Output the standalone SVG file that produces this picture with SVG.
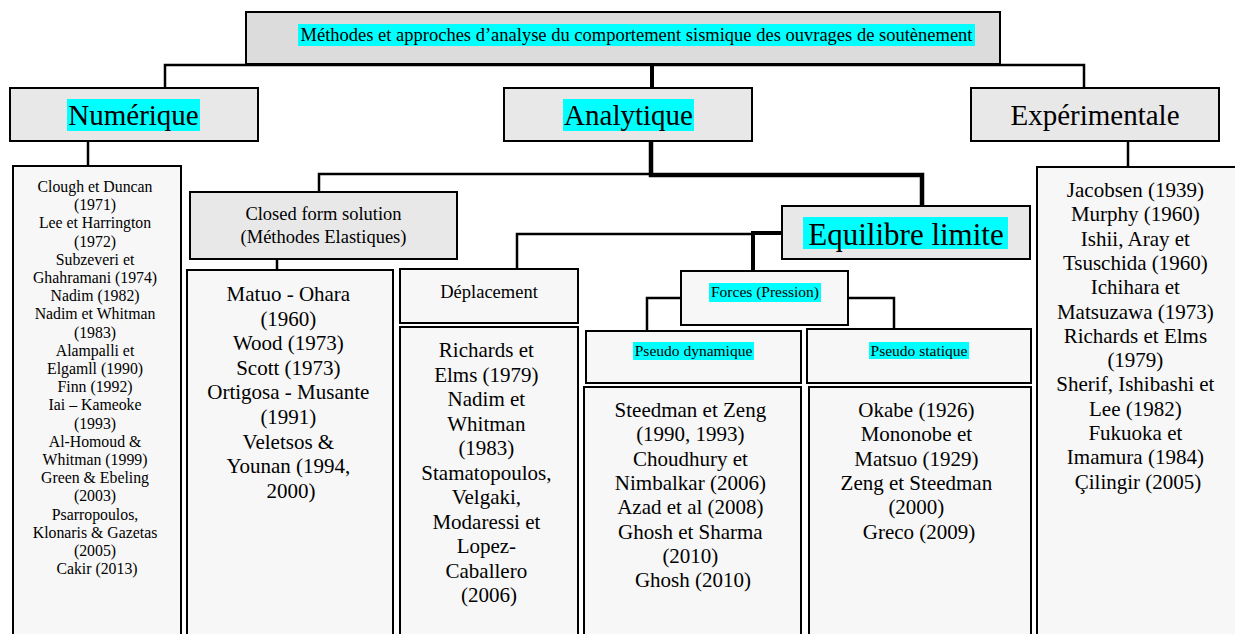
<svg xmlns="http://www.w3.org/2000/svg" width="1235" height="634" viewBox="0 0 1235 634" font-family="'Liberation Serif', 'Times New Roman', Times, serif">
<style>
.bx{stroke:#000;stroke-width:2;}
.g1{fill:#dcdcdc;}
.g2{fill:#e8e8e8;}
.g3{fill:#f7f7f7;}
.hl{fill:#00ffff;}
text{font-family:'Liberation Serif','Times New Roman',Times,serif;fill:#000;text-anchor:middle;}
.s1{font-size:18.5px;}
.s2{font-size:29px;}
.s3{font-size:15.8px;}
.s4{font-size:21px;}
.s5{font-size:15.5px;}
.c{stroke:#000;fill:none;stroke-width:2.5;}
.t{stroke:#000;fill:none;stroke-width:5;}
</style>
<rect width="1235" height="634" fill="#fff"/>
<g id="connectors">
<polyline class="c" points="165,88 165,65 1084,65 1084,88"/>
<line class="t" x1="652" y1="65" x2="652" y2="88" style="stroke-width:4"/>
<line class="c" x1="88" y1="141" x2="88" y2="166"/>
<line class="c" x1="1128" y1="141" x2="1128" y2="167"/>
<polyline class="t" points="651,141 651,175 922,175 922,205" style="stroke-width:4.5"/>
<polyline class="c" points="319,192 319,174 651,174"/>
<line class="c" x1="277" y1="259" x2="277" y2="270"/>
<polyline class="c" points="517,269 517,234 752,234"/>
<polyline class="t" points="803,233 753,233 753,271" style="stroke-width:4"/>
<polyline class="c" points="697,298 647,298 647,331"/>
<polyline class="c" points="847,298 894,298 894,329"/>
</g>
<g id="top">
<rect class="bx g1" x="246" y="12" width="754" height="52"/>
<rect class="hl" x="298" y="24" width="677" height="22"/>
<text class="s1" x="636.5" y="40.5" font-family="Liberation Serif">Méthodes et approches d’analyse du comportement sismique des ouvrages de soutènement</text>
</g>
<g id="numerique">
<rect class="bx g2" x="10" y="88" width="248" height="53"/>
<rect class="hl" x="67" y="99" width="133" height="32"/>
<text class="s2" x="133.5" y="125">Numérique</text>
</g>
<g id="analytique">
<rect class="bx g2" x="504" y="88" width="248" height="53"/>
<rect class="hl" x="563" y="99" width="131" height="32"/>
<text class="s2" x="628.5" y="125">Analytique</text>
</g>
<g id="experimentale">
<rect class="bx g2" x="971" y="88" width="248" height="53"/>
<text class="s2" x="1095" y="125">Expérimentale</text>
</g>
<g id="numerique-list">
<rect class="bx g3" x="13" y="166" width="168" height="474"/>
<text class="s3">
<tspan x="97" y="192">Clough et Duncan</tspan>
<tspan x="97" dy="18.2">(1971)</tspan>
<tspan x="97" dy="18.2">Lee et Harrington</tspan>
<tspan x="97" dy="18.2">(1972)</tspan>
<tspan x="97" dy="18.2">Subzeveri et</tspan>
<tspan x="97" dy="18.2">Ghahramani (1974)</tspan>
<tspan x="97" dy="18.2">Nadim (1982)</tspan>
<tspan x="97" dy="18.2">Nadim et Whitman</tspan>
<tspan x="97" dy="18.2">(1983)</tspan>
<tspan x="97" dy="18.2">Alampalli et</tspan>
<tspan x="97" dy="18.2">Elgamll (1990)</tspan>
<tspan x="97" dy="18.2">Finn (1992)</tspan>
<tspan x="97" dy="18.2">Iai – Kameoke</tspan>
<tspan x="97" dy="18.2">(1993)</tspan>
<tspan x="97" dy="18.2">Al-Homoud &amp;</tspan>
<tspan x="97" dy="18.2">Whitman (1999)</tspan>
<tspan x="97" dy="18.2">Green &amp; Ebeling</tspan>
<tspan x="97" dy="18.2">(2003)</tspan>
<tspan x="97" dy="18.2">Psarropoulos,</tspan>
<tspan x="97" dy="18.2">Klonaris &amp; Gazetas</tspan>
<tspan x="97" dy="18.2">(2005)</tspan>
<tspan x="97" dy="18.2">Cakir (2013)</tspan>
</text>
</g>
<g id="closed-form">
<rect class="bx g2" x="190" y="192" width="267" height="67"/>
<text class="s1"><tspan x="323.5" y="220">Closed form solution</tspan><tspan x="323.5" y="243">(Méthodes Elastiques)</tspan></text>
</g>
<g id="closed-form-list">
<rect class="bx g3" x="187" y="270" width="206" height="370"/>
<text class="s4">
<tspan x="291" y="301">Matuo - Ohara</tspan>
<tspan x="291" dy="24.6">(1960)</tspan>
<tspan x="291" dy="24.6">Wood (1973)</tspan>
<tspan x="291" dy="24.6">Scott (1973)</tspan>
<tspan x="291" dy="24.6">Ortigosa - Musante</tspan>
<tspan x="291" dy="24.6">(1991)</tspan>
<tspan x="291" dy="24.6">Veletsos &amp;</tspan>
<tspan x="291" dy="24.6">Younan (1994,</tspan>
<tspan x="291" dy="24.6">2000)</tspan>
</text>
</g>
<g id="deplacement">
<rect class="bx g3" x="400" y="269" width="178" height="54"/>
<text class="s1" x="489" y="298">Déplacement</text>
</g>
<g id="deplacement-list">
<rect class="bx g3" x="400" y="327" width="178" height="313"/>
<text class="s4">
<tspan x="489" y="357">Richards et</tspan>
<tspan x="489" dy="24.5">Elms (1979)</tspan>
<tspan x="489" dy="24.5">Nadim et</tspan>
<tspan x="489" dy="24.5">Whitman</tspan>
<tspan x="489" dy="24.5">(1983)</tspan>
<tspan x="489" dy="24.5">Stamatopoulos,</tspan>
<tspan x="489" dy="24.5">Velgaki,</tspan>
<tspan x="489" dy="24.5">Modaressi et</tspan>
<tspan x="489" dy="24.5">Lopez-</tspan>
<tspan x="489" dy="24.5">Caballero</tspan>
<tspan x="489" dy="24.5">(2006)</tspan>
</text>
</g>
<g id="equilibre">
<rect class="bx g2" x="782" y="206" width="248" height="53"/>
<rect class="hl" x="803" y="217" width="205" height="32"/>
<text x="906" y="245" style="font-size:31px">Equilibre limite</text>
</g>
<g id="forces">
<rect class="bx g3" x="681" y="271" width="167" height="54"/>
<rect class="hl" x="709" y="283" width="112" height="19"/>
<text class="s5" x="765" y="297">Forces (Pression)</text>
</g>
<g id="pseudo-dynamique">
<rect class="bx g3" x="586" y="331" width="215" height="52"/>
<rect class="hl" x="633" y="342" width="121" height="18"/>
<text class="s5" x="693.5" y="356">Pseudo dynamique</text>
</g>
<g id="pseudo-statique">
<rect class="bx g3" x="807" y="329" width="224" height="54"/>
<rect class="hl" x="869" y="342" width="100" height="17"/>
<text class="s5" x="919" y="356">Pseudo statique</text>
</g>
<g id="pseudo-dynamique-list">
<rect class="bx g3" x="584" y="387" width="217" height="253"/>
<text class="s4">
<tspan x="693" y="417">Steedman et Zeng</tspan>
<tspan x="693" dy="24.3">(1990, 1993)</tspan>
<tspan x="693" dy="24.3">Choudhury et</tspan>
<tspan x="693" dy="24.3">Nimbalkar (2006)</tspan>
<tspan x="693" dy="24.3">Azad et al (2008)</tspan>
<tspan x="693" dy="24.3">Ghosh et Sharma</tspan>
<tspan x="693" dy="24.3">(2010)</tspan>
<tspan x="693" dy="24.3">Ghosh (2010)</tspan>
</text>
</g>
<g id="pseudo-statique-list">
<rect class="bx g3" x="809" y="387" width="222" height="253"/>
<text class="s4">
<tspan x="919" y="417">Okabe (1926)</tspan>
<tspan x="919" dy="24.3">Mononobe et</tspan>
<tspan x="919" dy="24.3">Matsuo (1929)</tspan>
<tspan x="919" dy="24.3">Zeng et Steedman</tspan>
<tspan x="919" dy="24.3">(2000)</tspan>
<tspan x="919" dy="24.3">Greco (2009)</tspan>
</text>
</g>
<g id="experimentale-list">
<rect class="bx g3" x="1037" y="167" width="210" height="473"/>
<text class="s4">
<tspan x="1138" y="197">Jacobsen (1939)</tspan>
<tspan x="1138" dy="24.3">Murphy (1960)</tspan>
<tspan x="1138" dy="24.3">Ishii, Aray et</tspan>
<tspan x="1138" dy="24.3">Tsuschida (1960)</tspan>
<tspan x="1138" dy="24.3">Ichihara et</tspan>
<tspan x="1138" dy="24.3">Matsuzawa (1973)</tspan>
<tspan x="1138" dy="24.3">Richards et Elms</tspan>
<tspan x="1138" dy="24.3">(1979)</tspan>
<tspan x="1138" dy="24.3">Sherif, Ishibashi et</tspan>
<tspan x="1138" dy="24.3">Lee (1982)</tspan>
<tspan x="1138" dy="24.3">Fukuoka et</tspan>
<tspan x="1138" dy="24.3">Imamura (1984)</tspan>
<tspan x="1138" dy="24.3">Çilingir (2005)</tspan>
</text>
</g>
</svg>
